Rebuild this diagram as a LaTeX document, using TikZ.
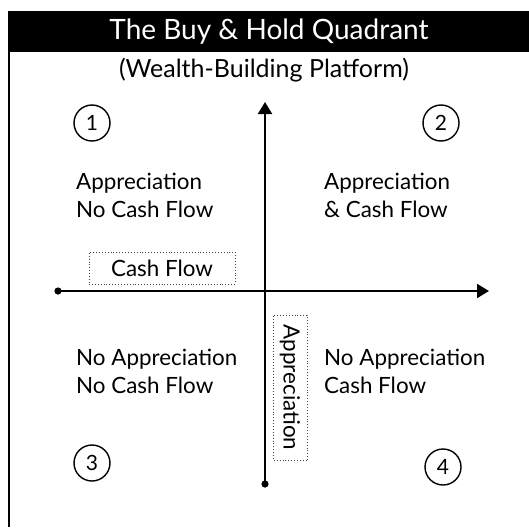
\documentclass[tikz,border=0pt]{standalone}
\usepackage{fontspec}
\setmainfont{Lato}
\usetikzlibrary{arrows.meta}
\begin{document}
\begin{tikzpicture}[x=1pt, y=-1pt, font=\fontsize{22.4}{28}\selectfont, line join=round,
  num/.style={circle, draw, line width=1.4pt, minimum size=36pt, inner sep=0pt, font=\fontsize{21}{24}\selectfont},
  quad/.style={anchor=west, align=left, inner sep=0pt},
  dotbox/.style={draw=black!75, dotted, line width=0.9pt, inner sep=0pt},
  axis/.style={line width=2pt, -{Triangle[length=12pt,width=14pt]}}]
\useasboundingbox (0,0) rectangle (529,527);
%Khung va tieu de
\fill (8,11) rectangle (529,52);
\draw[line width=2pt] (9,11) -- (9,527);
\node[text=white, anchor=base, font=\fontsize{28}{34}\selectfont] (title) at (269,40) {The Buy \& Hold Quadrant};
\node[anchor=base, font=\fontsize{25}{30}\selectfont] (sub) at (264,77) {(Wealth-Building Platform)};
%Truc toa do
\coordinate (west) at (58,291);
\coordinate (east) at (489,291);
\coordinate (south) at (265,484);
\coordinate (north) at (265,102);
\draw[axis] (west) -- (east);
\draw[axis] (south) -- (north);
\fill (west) circle (3.6) (south) circle (3.6);
%So thu tu goc phan tu
\foreach \n/\x/\y in {1/92/123, 2/441/123, 3/92/463, 4/443/467}
\node[num] (c\n) at (\x,\y) {\n};
%Noi dung goc phan tu
\node[quad] (q1) at (76,195.5) {Appreciation\\No Cash Flow};
\node[quad] (q2) at (324,195.5) {Appreciation\\\& Cash Flow};
\node[quad] (q3) at (76,371.5) {No Appreciation\\No Cash Flow};
\node[quad] (q4) at (324,371.5) {No Appreciation\\Cash Flow};
%Nhan truc
\node[dotbox, minimum width=146pt, minimum height=32pt] (cf) at (162,268) {Cash Flow};
\node[dotbox, rotate=-90, minimum width=145pt, minimum height=34pt] (ap) at (290,387.5) {Appreciation};
\end{tikzpicture}
\end{document}
